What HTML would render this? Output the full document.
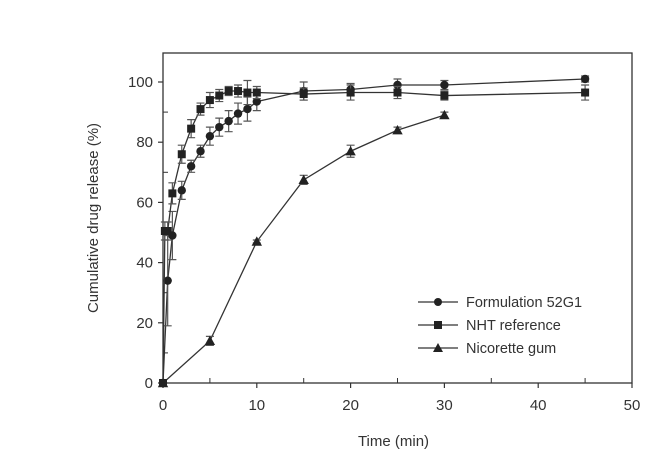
<!DOCTYPE html>
<html><head><meta charset="utf-8"><style>
body{margin:0;background:#fff;}
svg{display:block;font-family:"Liberation Sans",sans-serif;}
</style></head><body>
<svg id="chart" width="670" height="453"></svg>
<script>
const xTicks=[0,10,20,30,40,50];
const yTicks=[0,20,40,60,80,100];
const formT=[0,0.5,1,2,3,4,5,6,7,8,9,10,15,20,25,30,45];
const formV=[0,34,49,64,72,77,82,85,87,89.5,91,93.5,97,97.5,99,99,101];
const formE=[0,15,8,3,2,2,3,3,3.5,3.5,4,3,3,2,2,1.5,1];
const nhtT=[0,0.2,0.5,1,2,3,4,5,6,7,8,9,10,15,20,25,30,45];
const nhtV=[0,50.5,50.5,63,76,84.5,91,94,95.5,97,97,96.5,96.5,96,96.5,96.5,95.5,96.5];
const nhtE=[0,3,3,3.5,3,3,2,2.5,2,1.5,2,4,2,2,2.5,2,1.5,2.5];
const nicT=[0,5,10,15,20,25,30];
const nicV=[0,14,47,67.5,77,84,89];
const nicE=[0,1.5,0.5,1.5,2,1,1];
const svg=document.getElementById('chart');
const NS='http://www.w3.org/2000/svg';
const L=163,R=632,T=53,B=383;
const X=v=>L+(v/50)*(R-L);
const Y=v=>B-(v/100)*(B-82);
function mk(tag,at,parent){const e=document.createElementNS(NS,tag);for(const k in at)e.setAttribute(k,at[k]);(parent||svg).appendChild(e);return e;}
const frame=mk('rect',{x:L,y:T,width:R-L,height:B-T,fill:'none',stroke:'#333','stroke-width':1.3});


xTicks.forEach((t,i)=>{
  const tk=mk('line',{x1:X(t),x2:X(t),y1:B,y2:B+5,stroke:'#333','stroke-width':1.2});
  
  
  if(i<xTicks.length-1){const m=mk('line',{x1:X(t+5),x2:X(t+5),y1:B,y2:B-5,stroke:'#333','stroke-width':1});
  
  }
  const lb=mk('text',{x:X(t),y:B+27,'text-anchor':'middle','font-size':15,fill:'#333'});lb.textContent=t;
  
  
});
yTicks.forEach((t,i)=>{
  const tk=mk('line',{x1:L-5,x2:L,y1:Y(t),y2:Y(t),stroke:'#333','stroke-width':1.2});
  
  
  if(i<yTicks.length-1){const m=mk('line',{x1:L,x2:L+5,y1:Y(t+10),y2:Y(t+10),stroke:'#333','stroke-width':1});
  
  }
  const lb=mk('text',{x:L-10,y:Y(t)+5,'text-anchor':'end','font-size':15,fill:'#333'});lb.textContent=t;
  
  
});
const xt=mk('text',{x:(L+R)/2-4,y:446,'text-anchor':'middle','font-size':15,fill:'#333'});xt.textContent='Time (min)';


const yt=mk('text',{x:0,y:0,'text-anchor':'middle','font-size':15,fill:'#333',transform:'translate(98,218) rotate(-90)'});yt.textContent='Cumulative drug release (%)';


function marker(g,shape,cx,cy,s){
  let m;
  if(shape==='c')m=mk('circle',{cx:cx,cy:cy,r:s,fill:'#222'},g);
  else if(shape==='s')m=mk('rect',{x:cx-s,y:cy-s,width:2*s,height:2*s,fill:'#222'},g);
  else m=mk('polygon',{points:`${cx},${cy-s-1} ${cx-s-1},${cy+s} ${cx+s+1},${cy+s}`,fill:'#222'},g);
  return m;
}
function series(name,T_,V_,E_,shape){
  const g=mk('g',{});
  
  
  const pl=mk('polyline',{points:T_.map((t,i)=>X(t)+','+Y(V_[i])).join(' '),fill:'none',stroke:'#333','stroke-width':1.3},g);
  
  
  T_.forEach((t,i)=>{
    if(E_[i]>0){
      const x=X(t),y1=Y(V_[i]+E_[i]),y2=Y(V_[i]-E_[i]);
      const eb=mk('path',{d:`M${x},${y1}V${y2}M${x-4},${y1}H${x+4}M${x-4},${y2}H${x+4}`,stroke:'#555','stroke-width':1.2,fill:'none'},g);
      
      
    }
    const m=marker(g,shape,X(t),Y(V_[i]),shape==='s'?4:4.2);
    
    
  });
}
series('nicorette-gum',nicT,nicV,nicE,'t');
series('formulation-52g1',formT,formV,formE,'c');
series('nht-reference',nhtT,nhtV,nhtE,'s');
const leg=mk('g',{});


[['Formulation 52G1','c'],['NHT reference','s'],['Nicorette gum','t']].forEach((d,i)=>{
  const y=302+i*23;
  const ln=mk('line',{x1:418,x2:458,y1:y,y2:y,stroke:'#333','stroke-width':1.3},leg);
  
  
  const m=marker(leg,d[1],438,y,d[1]==='s'?4:4);
  
  
  const tx=mk('text',{x:466,y:y+5,'font-size':14.5,fill:'#333'},leg);tx.textContent=d[0];
  
  
});
</script>
</body></html>
